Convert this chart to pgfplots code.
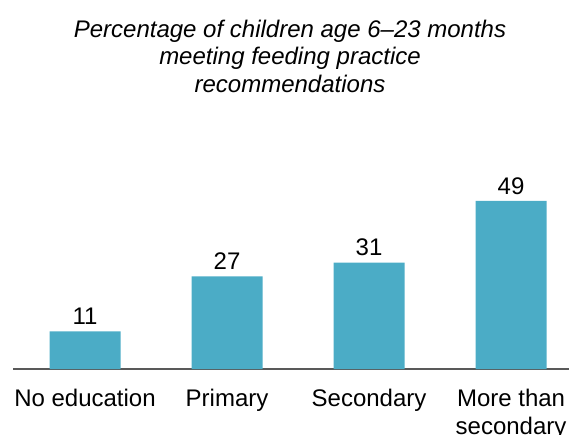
\documentclass[border=0pt]{standalone}
\usepackage{pgfplots}
\pgfplotsset{compat=1.18}
\usepackage{fontspec}
\setmainfont{Liberation Sans}
\definecolor{barc}{HTML}{4BACC6}
\definecolor{axc}{HTML}{595959}
\begin{document}
\begin{tikzpicture}[x=1pt,y=1pt]
\useasboundingbox (0,0) rectangle (569,434);
\node[font=\fontsize{24}{27.5}\selectfont\itshape, align=center] at (290,378) {Percentage of children age 6--23 months\\meeting feeding practice\\recommendations};
\begin{axis}[
  at={(13pt,65pt)}, anchor=south west,
  scale only axis, width=556pt, height=188.65pt,
  xmin=-0.507, xmax=3.408, ymin=0, ymax=55,
  axis x line*=bottom, axis y line=none,
  x axis line style={draw=axc, line width=1.3pt, -},
  xtick=data, xticklabels={No education, Primary, Secondary, More than\\secondary},
  major tick length=0pt,
  xticklabel style={font=\fontsize{24}{27.5}\selectfont, align=center, yshift=-17pt},
  ytick=\empty,
  clip=false,
  /pgf/number format/assume math mode=true,
  nodes near coords,
  every node near coord/.append style={font=\fontsize{24}{27}\selectfont, yshift=3pt},
]
\addplot[ybar, bar width=71pt, fill=barc, draw=none] coordinates {(0,11) (1,27) (2,31) (3,49)};
\end{axis}
\end{tikzpicture}
\end{document}
